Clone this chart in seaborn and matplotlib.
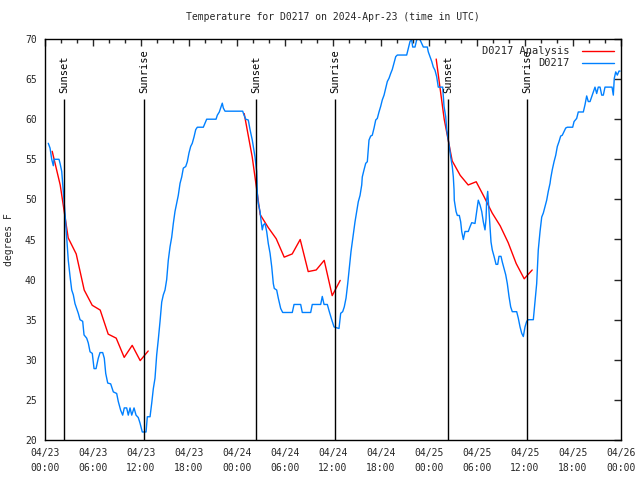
import numpy as np
import pandas as pd
import matplotlib
matplotlib.use("Agg")
import matplotlib.pyplot as plt
import matplotlib.dates as mdates
from matplotlib.lines import Line2D
import seaborn as sns

# ---------------- data ----------------
start = pd.Timestamp("2024-04-23 00:00")

obs_hours = [0.41, 0.63, 0.84, 1.04, 1.13, 1.75, 1.88, 2.09, 2.21, 2.29, 2.5, 2.71, 2.91, 3.13, 3.34,
             3.54, 3.75, 3.96, 4.16, 4.38, 4.71, 4.88, 5.21, 5.41, 5.63, 5.91, 6.13, 6.38, 6.66, 6.88,
             7.21, 7.41, 7.59, 7.84, 8.21, 8.54, 8.96, 9.16, 9.46, 9.71, 9.91, 10.21, 10.41, 10.63,
             10.84, 11.13, 11.38, 11.66, 11.88, 12.16, 12.63, 12.79, 13.13, 13.34, 13.54, 13.75,
             13.96, 14.16, 14.38, 14.59, 14.79, 15.0, 15.21, 15.41, 15.63, 15.84, 16.04, 16.25,
             16.46, 16.66, 16.88, 17.09, 17.29, 17.59, 17.79, 18.0, 18.21, 18.41, 18.63, 18.84,
             19.04, 19.79, 20.0, 20.21, 21.38, 21.54, 21.79, 21.96, 22.16, 22.29, 22.5, 24.71,
             24.88, 25.09, 25.41, 25.63, 25.91, 26.25, 26.46, 26.54, 26.66, 26.88, 27.0, 27.16,
             27.29, 27.5, 27.71, 27.91, 28.13, 28.34, 28.54, 28.66, 28.96, 29.16, 29.46, 29.71,
             30.91, 31.13, 31.96, 32.16, 33.21, 33.41, 34.46, 34.66, 34.88, 35.29, 35.54, 35.84,
             36.13, 36.75, 36.96, 37.21, 37.41, 37.63, 37.84, 38.04, 38.25, 38.54, 38.75, 38.96,
             39.16, 39.38, 39.59, 39.66, 39.88, 40.09, 40.29, 40.5, 40.71, 40.91, 41.13, 41.34,
             41.54, 41.75, 41.96, 42.16, 42.38, 42.59, 42.79, 43.0, 43.21, 43.41, 43.63, 43.84,
             44.04, 45.21, 45.41, 45.63, 45.84, 45.96, 46.25, 46.46, 46.66, 46.88, 47.29, 47.79,
             47.91, 48.13, 48.34, 48.54, 48.75, 48.96, 49.16, 49.71, 49.88, 50.09, 50.21, 50.41,
             50.54, 50.71, 50.91, 51.04, 51.13, 51.16, 51.38, 51.54, 51.79, 51.96, 52.09, 52.29,
             52.5, 52.91, 53.13, 53.34, 53.75, 53.96, 54.16, 54.38, 54.59, 54.79, 55.0, 55.13,
             55.21, 55.34, 55.46, 55.63, 55.75, 55.91, 56.13, 56.38, 56.59, 56.75, 57.0, 57.16,
             57.38, 57.59, 57.79, 58.0, 58.21, 58.41, 58.96, 59.16, 59.38, 59.59, 59.79, 60.0,
             60.21, 60.41, 61.04, 61.25, 61.46, 61.66, 61.88, 62.09, 62.29, 62.5, 62.71, 62.91,
             63.13, 63.21, 63.41, 63.63, 63.84, 64.04, 64.25, 64.46, 64.66, 65.09, 65.29, 65.96,
             66.13, 66.46, 66.66, 67.29, 67.5, 67.71, 67.91, 68.13, 68.34, 68.54, 68.75, 68.96,
             69.16, 69.38, 69.59, 69.79, 70.0, 70.88, 71.04, 71.16, 71.34, 71.54, 71.75, 71.88]

obs_temps = [57.0, 56.4, 55.0, 54.2, 55.0, 55.0, 54.5, 53.5, 52.0, 51.0, 48.3, 45.3, 42.4, 40.4, 38.7,
             38.1, 37.0, 36.4, 35.8, 35.0, 34.8, 33.1, 32.7, 32.1, 31.0, 30.8, 28.9, 28.9, 30.2, 30.9,
             30.9, 30.2, 28.3, 27.1, 27.0, 26.0, 25.8, 24.8, 23.7, 23.1, 24.0, 24.0, 23.1, 24.0,
             23.1, 24.0, 23.1, 22.8, 22.1, 21.0, 21.0, 22.9, 22.9, 24.6, 26.4, 27.7,
             30.6, 32.5, 34.8, 37.2, 38.1, 38.7, 40.0, 42.4, 44.1, 45.3, 47.0, 48.5,
             49.5, 50.5, 52.0, 52.8, 53.9, 54.1, 54.7, 55.8, 56.6, 57.0, 57.8, 58.7,
             59.0, 59.0, 59.5, 60.0, 60.0, 60.5, 60.9, 61.4, 62.0, 61.4, 61.0, 61.0,
             60.5, 60.0, 59.9, 58.7, 57.4, 55.3, 53.5, 50.8, 49.5, 48.5, 47.4, 46.2,
             46.8, 47.0, 46.0, 44.5, 43.3, 41.6, 39.5, 38.9, 38.7, 37.7, 36.4, 35.9,
             35.9, 36.9, 36.9, 35.9, 35.9, 36.9, 36.9, 37.9, 36.9, 36.9, 36.0, 35.0,
             34.1, 33.9, 35.8, 36.0, 36.6, 37.7, 39.5, 41.4, 43.5, 45.6, 47.2, 48.5,
             49.7, 50.5, 51.8, 52.8, 53.7, 54.5, 54.7, 57.4, 57.9, 58.0, 58.9, 59.9,
             60.1, 60.9, 61.6, 62.4, 63.0, 63.9, 64.7, 65.1, 65.7, 66.2, 67.0, 67.8,
             68.0, 68.0, 68.8, 69.7, 69.9, 69.0, 69.0, 69.9, 70.0, 69.9, 69.0, 69.0,
             68.4, 67.8, 67.2, 66.5, 66.1, 65.3, 64.0, 64.0, 61.6, 60.3, 58.7, 57.4,
             56.6, 55.3, 54.1, 52.8, 51.2, 49.9, 48.5, 48.0, 48.0, 47.2, 46.0, 45.0,
             46.0, 46.0, 46.6, 47.1, 47.0, 48.5, 49.9, 49.3, 48.5, 47.2, 46.2, 47.6,
             49.9, 51.0, 49.1, 46.2, 44.7, 43.7, 42.9, 41.9, 41.9, 42.9, 42.9, 42.2,
             41.4, 40.6, 39.5, 37.9, 36.6, 36.0, 36.0, 35.2, 34.1, 33.3, 32.9, 34.1,
             34.8, 35.0, 35.0, 37.2, 39.5, 43.7, 46.0, 47.8, 48.3, 49.1, 49.9, 51.0,
             52.0, 52.6, 53.7, 54.7, 55.5, 56.6, 57.2, 57.9, 58.0, 58.9, 59.0, 59.0,
             59.7, 60.1, 60.9, 60.9, 61.8, 62.9, 62.2, 62.2, 62.8, 63.4, 64.0, 63.2,
             64.0, 64.0, 63.0, 63.0, 64.0, 64.0, 63.0, 65.1, 65.9, 65.5, 66.0, 66.0]

ana_hours = [0.9, 1.9, 2.9, 3.9, 4.9, 5.9, 6.9, 7.9, 8.9, 9.9, 10.9, 11.9, 12.9,
             24.9, 25.9, 26.9, 27.9, 28.9, 29.9, 30.9, 31.9, 32.9, 33.9, 34.9, 35.9, 36.9,
             48.9, 49.9, 50.9, 51.9, 52.9, 53.9, 54.9, 55.9, 56.9, 57.9, 58.9, 59.9, 60.9]
ana_temps = [56.0, 51.8, 45.2, 43.2, 38.7, 36.8, 36.2, 33.2, 32.7, 30.3, 31.8, 29.9, 31.1,
             60.7, 55.3, 48.1, 46.5, 45.1, 42.8, 43.2, 45.0, 41.0, 41.2, 42.4, 38.0, 39.9,
             67.5, 60.0, 54.8, 53.0, 51.8, 52.2, 50.3, 48.3, 46.7, 44.6, 42.0, 40.1, 41.2]
ana_segment = [1] * 13 + [2] * 13 + [3] * 13

sun_hours = [2.38, 12.42, 26.38, 36.28, 50.40, 60.28]
sun_labels = ["Sunset", "Sunrise", "Sunset", "Sunrise", "Sunset", "Sunrise"]

obs_df = pd.DataFrame({"time": start + pd.to_timedelta(obs_hours, unit="h"), "temp": obs_temps})
ana_df = pd.DataFrame({"time": start + pd.to_timedelta(ana_hours, unit="h"),
                       "temp": ana_temps, "seg": ana_segment})

# ---------------- plot ----------------
sns.set_style("white")
plt.rcParams["font.family"] = ["DejaVu Sans Mono"]
plt.rcParams["font.size"] = 7

fig = plt.figure(figsize=(6.4, 4.8), dpi=100)
ax = fig.add_axes([45 / 640, 1 - 440 / 480, 576 / 640, 401 / 480])

blue = "#0080ff"
red = "#ff0000"

sns.lineplot(data=ana_df, x="time", y="temp", units="seg", estimator=None,
             color=red, linewidth=1.0, ax=ax, legend=False)
sns.lineplot(data=obs_df, x="time", y="temp", estimator=None,
             color=blue, linewidth=1.0, ax=ax, legend=False)

sun_times = start + pd.to_timedelta(sun_hours, unit="h")
ax.vlines(sun_times, 20, 62.5, color="black", linewidth=1.0)
for t, lab in zip(sun_times, sun_labels):
    ax.text(t, 63.3, lab, rotation=90, ha="center", va="bottom", fontsize=7.5, color="black")

ax.set_xlim(start, start + pd.Timedelta(hours=72))
ax.set_ylim(20, 70)
ax.xaxis.set_major_locator(mdates.HourLocator(byhour=[0, 6, 12, 18]))
ax.xaxis.set_minor_locator(mdates.HourLocator(byhour=range(0, 24, 2)))
ax.xaxis.set_major_formatter(mdates.DateFormatter("%m/%d\n%H:%M"))
ax.set_yticks(np.arange(20, 71, 5))
ax.tick_params(axis="both", which="major", direction="in", length=5, width=1,
               top=True, right=True, labelsize=7, pad=6)
ax.tick_params(axis="x", which="minor", direction="in", length=3, width=1, top=True)
for lbl in ax.get_xticklabels():
    lbl.set_linespacing(1.6)
for s in ax.spines.values():
    s.set_linewidth(1.0)
    s.set_color("black")

ax.set_xlabel("")
ax.set_ylabel("degrees F", fontsize=7, labelpad=8)
ax.set_title("Temperature for D0217 on 2024-Apr-23 (time in UTC)", fontsize=7, pad=14)

handles = [Line2D([], [], color=red, linewidth=1.0), Line2D([], [], color=blue, linewidth=1.0)]
ax.legend(handles, ["D0217 Analysis", "D0217"], loc="upper right", frameon=False,
          markerfirst=False, handlelength=3.0, fontsize=7.5, borderaxespad=0.3,
          labelspacing=0.2, handletextpad=1.2)

fig.savefig("out.png", dpi=100)
